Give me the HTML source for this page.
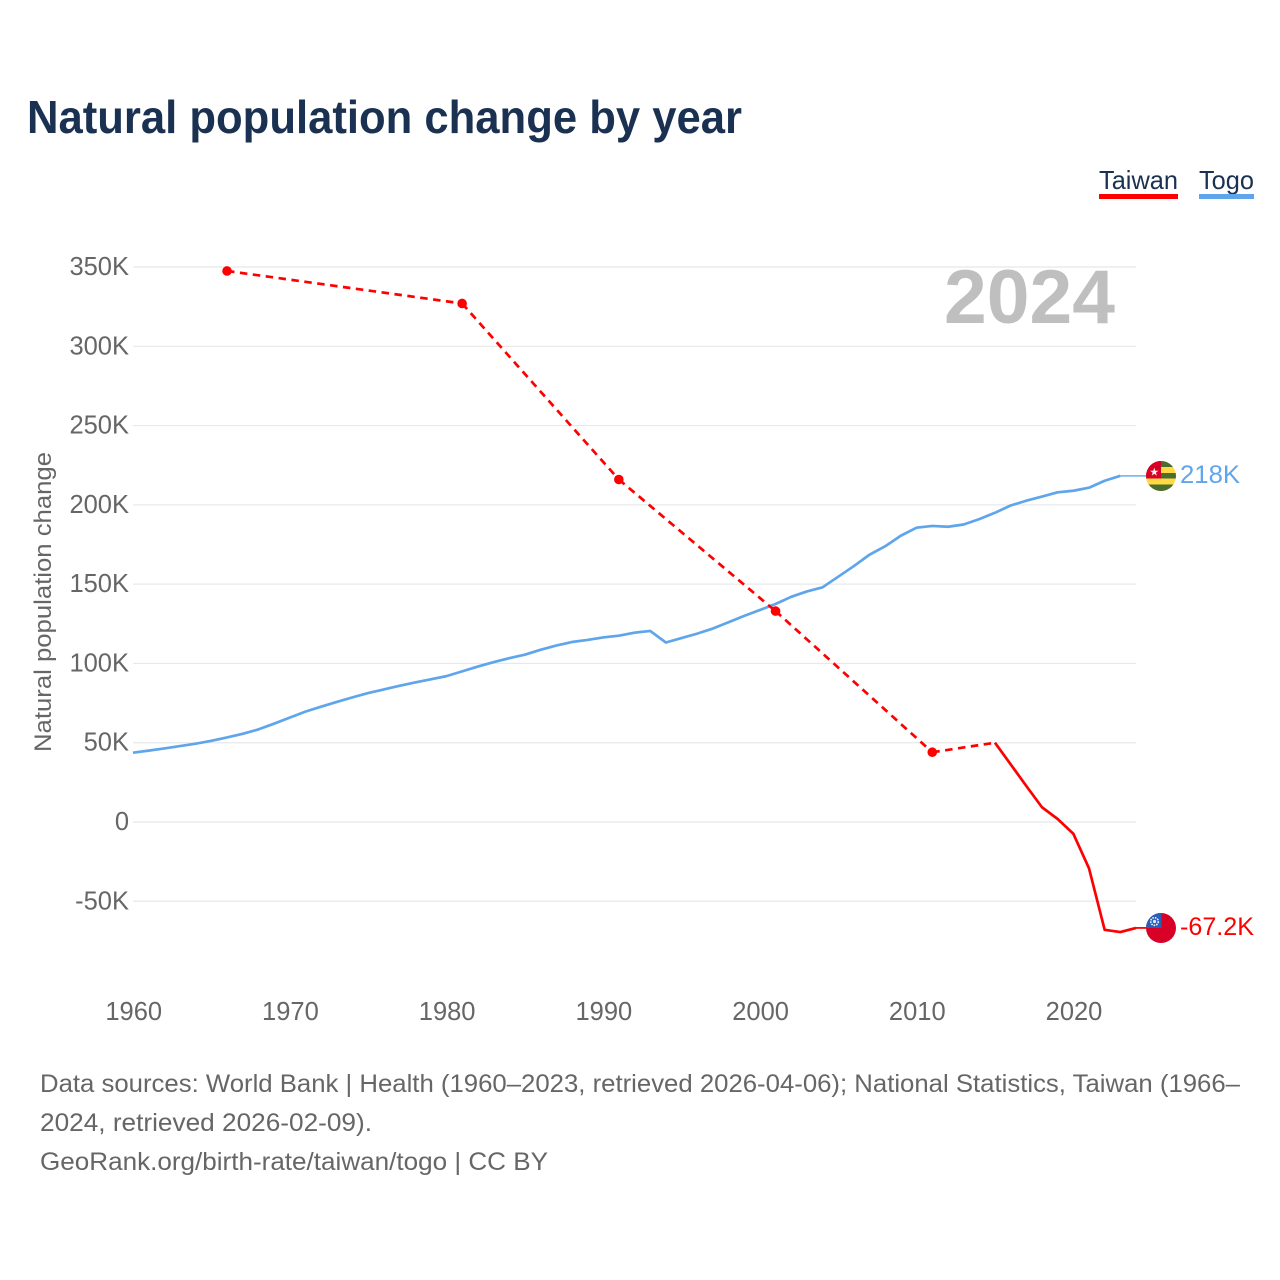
<!DOCTYPE html>
<html lang="en">
<head>
<meta charset="utf-8">
<title>Natural population change by year</title>
<style>
html,body{margin:0;padding:0;background:#fff;}
body{width:1280px;height:1280px;overflow:hidden;font-family:"Liberation Sans",sans-serif;}
svg{display:block;}
text{font-family:"Liberation Sans",sans-serif;}
</style>
</head>
<body>
<svg id="chart" width="1280" height="1280" viewBox="0 0 1280 1280" xmlns="http://www.w3.org/2000/svg">
  <defs>
    <clipPath id="flag-clip-togo"><circle cx="1161" cy="476" r="15"/></clipPath>
    <clipPath id="flag-clip-taiwan"><circle cx="1161" cy="928" r="15"/></clipPath>
  </defs>
  <text x="27" y="133" font-size="46" font-weight="700" fill="#1a3152" textLength="715" lengthAdjust="spacingAndGlyphs">Natural population change by year</text>

  <g style="cursor:pointer">
    <text x="1099" y="189" font-size="26" fill="#1a3152" textLength="79" lengthAdjust="spacingAndGlyphs">Taiwan</text>
    <rect x="1099" y="194" width="79" height="5" fill="#ff0000"/>
  </g>
  <g style="cursor:pointer">
    <text x="1199" y="189" font-size="26" fill="#1a3152" textLength="55" lengthAdjust="spacingAndGlyphs">Togo</text>
    <rect x="1199" y="194" width="55" height="5" fill="#5fa5ec"/>
  </g>

  <g id="grid"></g>
  <text x="1115" y="323" font-size="76" font-weight="700" fill="#bfbfbf" text-anchor="end" textLength="171" lengthAdjust="spacingAndGlyphs">2024</text>
  <g id="y-ticks"></g>
  <g id="x-ticks"></g>
  <text transform="translate(51,602) rotate(-90)" font-size="24" fill="#666666" text-anchor="middle" textLength="300" lengthAdjust="spacingAndGlyphs">Natural population change</text>

  <g id="series"></g>

  <g clip-path="url(#flag-clip-togo)">
    <rect x="1146" y="461" width="30" height="30" fill="#ffda44"/>
    <rect x="1146" y="461" width="30" height="6" fill="#496e2d"/>
    <rect x="1146" y="473" width="30" height="5.5" fill="#496e2d"/>
    <rect x="1146" y="484.5" width="30" height="6.5" fill="#496e2d"/>
    <rect x="1146" y="461" width="15" height="17.5" fill="#d80027"/>
    <polygon points="1154.3,467.6 1155.3,470.7 1158.5,470.7 1155.9,472.6 1156.9,475.7 1154.3,473.8 1151.7,475.7 1152.7,472.6 1150.1,470.7 1153.3,470.7" fill="#f3f3f3"/>
  </g>
  <text x="1180" y="483" font-size="25" fill="#5fa5ec" textLength="60" lengthAdjust="spacingAndGlyphs">218K</text>

  <g clip-path="url(#flag-clip-taiwan)">
    <rect x="1146" y="913" width="30" height="30" fill="#d80027"/>
    <rect x="1146" y="913" width="15.5" height="15" fill="#2a5fb8"/>
    <circle cx="1154.5" cy="921.5" r="3.8" fill="none" stroke="#eef3fb" stroke-width="1.6" stroke-dasharray="1.6 1"/>
    <circle cx="1154.5" cy="921.5" r="1.6" fill="#dfe8f7"/>
  </g>
  <text x="1180" y="935" font-size="25" fill="#ff0000" textLength="74" lengthAdjust="spacingAndGlyphs">-67.2K</text>

  <g fill="#666666" font-size="25">
    <text x="40" y="1092" textLength="1200" lengthAdjust="spacingAndGlyphs">Data sources: World Bank | Health (1960–2023, retrieved 2026-04-06); National Statistics, Taiwan (1966–</text>
    <text x="40" y="1131" textLength="332" lengthAdjust="spacingAndGlyphs">2024, retrieved 2026-02-09).</text>
    <text x="40" y="1170" textLength="508" lengthAdjust="spacingAndGlyphs">GeoRank.org/birth-rate/taiwan/togo | CC BY</text>
  </g>
</svg>

<script>
const yTickValues = [-50, 0, 50, 100, 150, 200, 250, 300, 350];
const yTickLabels = ['-50K', '0', '50K', '100K', '150K', '200K', '250K', '300K', '350K'];
const xTickYears = [1960, 1970, 1980, 1990, 2000, 2010, 2020];
const togoStartYear = 1960;
const togoValues = [
  43.7, 45, 46.4, 47.9, 49.4, 51.2, 53.3, 55.6, 58.4, 62,
  65.8, 69.6, 72.7, 75.7, 78.6, 81.3, 83.6, 85.9, 88, 90,
  92, 95, 98, 100.8, 103.3, 105.5, 108.6, 111.3, 113.5, 114.8,
  116.4, 117.5, 119.4, 120.5, 113.2, 116, 118.8, 122, 126, 130,
  133.7, 137.5, 142, 145.4, 148, 154.7, 161.4, 168.6, 173.9, 180.6,
  185.6, 186.7, 186.2, 187.6, 191, 195, 199.6, 202.6, 205.2, 207.9,
  208.9, 210.8, 215.2, 218.3
];
const taiwanYears = [1966, 1981, 1991, 2001, 2011, 2015, 2016, 2017, 2018, 2019, 2020, 2021, 2022, 2023, 2024];
const taiwanValues = [347.5, 327, 216, 133, 44, 50, 36.4, 22.7, 9.3, 1.9, -7.4, -29.2, -68, -69.4, -66.8];

const NS = 'http://www.w3.org/2000/svg';
const xScale = year => 133 + (year - 1960) * 15.672;
const yScale = value => 822 - value * 1.5857;
const make = (tag, parent, props) => {
  const el = document.createElementNS(NS, tag);
  Object.keys(props).forEach(k => el.setAttribute(k, props[k]));
  parent.appendChild(el);
  return el;
};

const gridLayer = document.getElementById('grid');
const yLayer = document.getElementById('y-ticks');
yTickValues.forEach((v, i) => {
  const line = make('line', gridLayer, {x1: 133, x2: 1136, y1: yScale(v), y2: yScale(v), stroke: '#e8e8e8', 'stroke-width': 1.2});
  
  
  const label = make('text', yLayer, {x: 129, y: yScale(v) + 8, 'font-size': 25.5, fill: '#666666', 'text-anchor': 'end'});
  label.textContent = yTickLabels[i];
  
  
});

const xLayer = document.getElementById('x-ticks');
xTickYears.forEach(year => {
  const label = make('text', xLayer, {x: xScale(year) + 0.7, y: 1020, 'font-size': 25.5, fill: '#666666', 'text-anchor': 'middle'});
  label.textContent = String(year);
  
  
});

const seriesLayer = document.getElementById('series');

const togoPoints = togoValues.map((v, i) => [xScale(togoStartYear + i), yScale(v)]);
const togoLast = togoPoints[togoPoints.length - 1];
const togoConnector = make('line', seriesLayer, {x1: togoLast[0], y1: togoLast[1], x2: 1146, y2: togoLast[1], stroke: '#7fb8f0', 'stroke-width': 1.8});


const togoLine = make('polyline', seriesLayer, {points: togoPoints.map(p => p.join(',')).join(' '), fill: 'none', stroke: '#5fa5ec', 'stroke-width': 2.7, 'stroke-linejoin': 'round'});



const taiwanPoints = taiwanValues.map((v, i) => [xScale(taiwanYears[i]), yScale(v)]);
const taiwanLast = taiwanPoints[taiwanPoints.length - 1];
const taiwanConnector = make('line', seriesLayer, {x1: taiwanLast[0], y1: taiwanLast[1], x2: 1146, y2: taiwanLast[1], stroke: '#ff0000', 'stroke-width': 1.8});



let solid = [];
taiwanPoints.forEach((p, i) => {
  if (i === 0) return;
  const gap = taiwanYears[i] - taiwanYears[i - 1];
  if (gap > 1) {
    const seg = make('line', seriesLayer, {x1: taiwanPoints[i - 1][0], y1: taiwanPoints[i - 1][1], x2: p[0], y2: p[1], stroke: '#ff0000', 'stroke-width': 2.7, 'stroke-dasharray': '7.5 5.5'});
    
    
  } else {
    if (!solid.length) solid.push(taiwanPoints[i - 1]);
    solid.push(p);
  }
});
const taiwanLine = make('polyline', seriesLayer, {points: solid.map(p => p.join(',')).join(' '), fill: 'none', stroke: '#ff0000', 'stroke-width': 2.7, 'stroke-linejoin': 'round'});



taiwanPoints.forEach((p, i) => {
  const next = taiwanYears[i + 1];
  if (next === undefined || next - taiwanYears[i] === 1) return;
  const dot = make('circle', seriesLayer, {cx: p[0], cy: p[1], r: 4.8, fill: '#ff0000'});
  
  
});
</script>
</body>
</html>
